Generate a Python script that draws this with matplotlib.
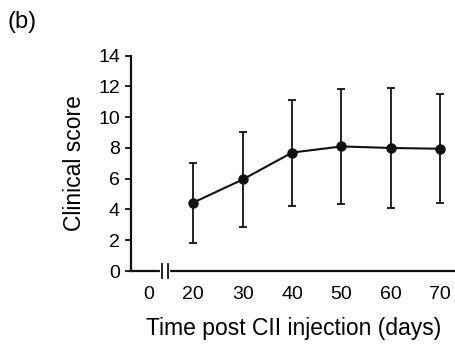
import matplotlib
matplotlib.use('Agg')
import matplotlib.pyplot as plt
import matplotlib.transforms as mtransforms

plt.rcParams['font.family'] = ['Liberation Sans', 'DejaVu Sans']

# data
days = [20, 30, 40, 50, 60, 70]
score = [4.45, 5.95, 7.7, 8.1, 8.0, 7.95]
score_sd = [2.6, 3.1, 3.45, 3.75, 3.9, 3.55]
xtick_pos = [11, 20, 30, 40, 50, 60, 70]  # "0" sits before the axis break
xtick_labels = ['0', '20', '30', '40', '50', '60', '70']
yticks = [0, 2, 4, 6, 8, 10, 12, 14]

fig = plt.figure(figsize=(4.56, 3.5), dpi=100)
ax = fig.add_axes([131 / 456, 1 - 271 / 350, 325 / 456, (271 - 55.7) / 350])

ax.errorbar(days, score, yerr=score_sd, color='#111111', lw=1.5, marker='o', ms=6.5,
            elinewidth=1.3, capsize=3.2, capthick=1.3, clip_on=False)

ax.set_xlim(7.38, 73.2)
ax.set_ylim(0, 14)
ax.set_xticks(xtick_pos)
ax.set_xticklabels(xtick_labels)
ax.set_yticks(yticks)

for s in ['top', 'right']:
    ax.spines[s].set_visible(False)
for s in ['left', 'bottom']:
    ax.spines[s].set_linewidth(1.6)
    ax.spines[s].set_color('#111111')

ax.tick_params(axis='x', length=0, pad=11, labelsize=14)
ax.tick_params(axis='y', length=4.5, width=1.3, pad=3.5, labelsize=14, color='#111111')

ax.set_ylabel('Clinical score', fontsize=16.5, labelpad=9)
ax.set_xlabel('Time post CII injection (days)', fontsize=16.5, labelpad=10)

# axis break marks
trans = mtransforms.blended_transform_factory(ax.transData, ax.transAxes)
ax.plot([13.7, 14.85], [0, 0], color='white', lw=3, transform=trans, clip_on=False, zorder=5)
for xb in [13.7, 14.85]:
    ax.plot([xb, xb], [-0.033, 0.033], color='#111111', lw=1.3, transform=trans,
            clip_on=False, zorder=6)

fig.text(8 / 456, 1 - 22 / 350, '(b)', fontsize=17, ha='left', va='center')

fig.savefig('out.png', dpi=100)
